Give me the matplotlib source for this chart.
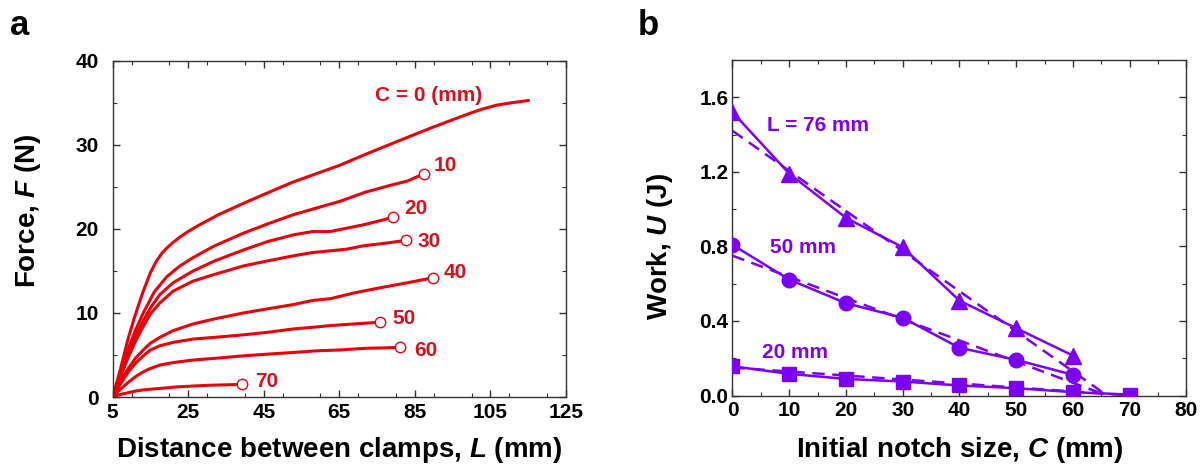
import matplotlib
matplotlib.use("Agg")
import matplotlib.pyplot as plt
from matplotlib.ticker import MultipleLocator, FixedLocator

plt.rcParams['font.family'] = ['Liberation Sans', 'DejaVu Sans']
plt.rcParams['font.weight'] = 'bold'
plt.rcParams['mathtext.fontset'] = 'custom'
plt.rcParams['mathtext.it'] = 'Liberation Sans:italic:bold'
plt.rcParams['mathtext.rm'] = 'Liberation Sans:bold'

# ---------------- Panel a data: force vs distance for notch sizes C ----------------
notch_sizes = [0, 10, 20, 30, 40, 50, 60, 70]

L_c0 = [5, 7, 9, 11, 13.1, 15.0, 16.5, 18.0, 19.5, 21, 23, 25, 27.2, 33, 39.6, 46, 52.8, 59, 65.2, 72, 80.2, 89.1, 97.9, 102.3, 106.7, 111, 115.1]
F_c0 = [0, 3.2, 6.8, 9.8, 12.6, 14.8, 16.1, 17.1, 17.8, 18.4, 19.1, 19.7, 20.3, 21.7, 23.05, 24.3, 25.6, 26.6, 27.6, 28.9, 30.4, 32.0, 33.5, 34.2, 34.75, 35.05, 35.3]

L_c10 = [5, 7, 9, 11, 13.1, 16, 19.3, 22.5, 26.3, 32, 39.6, 46, 52.8, 59, 65.2, 72, 78.5, 83, 87.5]
F_c10 = [0, 2.8, 5.6, 7.9, 10.0, 12.5, 14.3, 15.5, 16.6, 18.0, 19.5, 20.6, 21.7, 22.5, 23.3, 24.4, 25.2, 25.7, 26.6]

L_c20 = [5, 7, 9, 11, 13.1, 15, 17.5, 21, 26.3, 32, 39.6, 46, 52.8, 58, 62.6, 67, 71.4, 75, 79.3]
F_c20 = [0, 2.5, 5.0, 7.2, 9.1, 10.6, 12.2, 13.6, 15.0, 16.2, 17.5, 18.5, 19.3, 19.7, 19.7, 20.1, 20.5, 20.9, 21.4]

L_c30 = [5, 7, 9, 11, 13.1, 15, 17.5, 21, 26.3, 32, 39.6, 46, 52.8, 58, 62.6, 67, 71.4, 77, 82.7]
F_c30 = [0, 2.3, 4.6, 6.6, 8.4, 9.9, 11.2, 12.6, 13.8, 14.6, 15.6, 16.2, 16.8, 17.2, 17.4, 17.6, 18.0, 18.3, 18.65]

L_c40 = [5, 7, 9, 11, 13.1, 15, 17.5, 21, 26.3, 32, 39.6, 46, 52.8, 58, 62.6, 69, 75.8, 83, 89.9]
F_c40 = [0, 1.8, 3.3, 4.6, 5.6, 6.4, 7.1, 7.9, 8.7, 9.3, 10.0, 10.5, 11.0, 11.5, 11.7, 12.4, 13.0, 13.6, 14.2]

L_c50 = [5, 7, 9, 11, 13.1, 15, 17.5, 21, 26.3, 32, 39.6, 46, 52.8, 58, 62.6, 69, 75.7]
F_c50 = [0, 1.5, 2.9, 4.0, 4.9, 5.6, 6.1, 6.5, 6.9, 7.1, 7.4, 7.7, 8.1, 8.3, 8.5, 8.7, 8.9]

L_c60 = [5, 7, 9, 11, 13.1, 15, 17.5, 21, 26.3, 32, 39.6, 46, 52.8, 59, 65.2, 72, 81.1]
F_c60 = [0, 0.9, 1.7, 2.4, 3.0, 3.4, 3.8, 4.1, 4.4, 4.6, 4.9, 5.1, 5.3, 5.5, 5.6, 5.8, 5.9]

L_c70 = [5, 7, 9, 11, 13.1, 17, 22, 26, 30.8, 35, 39.3]
F_c70 = [0, 0.3, 0.5, 0.7, 0.85, 1.0, 1.2, 1.3, 1.4, 1.45, 1.5]

curves_L = [L_c0, L_c10, L_c20, L_c30, L_c40, L_c50, L_c60, L_c70]
curves_F = [F_c0, F_c10, F_c20, F_c30, F_c40, F_c50, F_c60, F_c70]
labels_a = ["C = 0 (mm)", "10", "20", "30", "40", "50", "60", "70"]
label_pos_L = [88.6, 93.0, 85.3, 88.8, 95.7, 82.0, 87.9, 45.8]
label_pos_F = [35.95, 27.6, 22.4, 18.5, 14.85, 9.3, 5.5, 1.9]

a_xticks = [5, 25, 45, 65, 85, 105, 125]
a_yticks = [0, 10, 20, 30, 40]

# ---------------- Panel b data: work vs notch size ----------------
C_vals = [0, 10, 20, 30, 40, 50, 60]
U_L76 = [1.52, 1.19, 0.953, 0.795, 0.509, 0.361, 0.214]
U_L50 = [0.808, 0.622, 0.495, 0.417, 0.256, 0.191, 0.111]
C_vals_20 = [0, 10, 20, 30, 40, 50, 60, 70]
U_L20 = [0.157, 0.116, 0.089, 0.075, 0.054, 0.039, 0.018, 0.005]

fit_C_L76 = [0, 66]
fit_U_L76 = [1.42, 0.0]
fit_C_L50 = [0, 66]
fit_U_L50 = [0.75, 0.0]
fit_C_L20 = [0, 70]
fit_U_L20 = [0.15, 0.0]

b_xticks = [0, 10, 20, 30, 40, 50, 60, 70, 80]
b_yticks = [0.0, 0.4, 0.8, 1.2, 1.6]
b_labels = ["L = 76 mm", "50 mm", "20 mm"]
b_label_C = [15.1, 12.5, 11.0]
b_label_U = [1.45, 0.795, 0.232]

RED = '#e8000b'
RED_TXT = '#d8101c'
PURPLE = '#7c00f2'

fig = plt.figure(figsize=(12.01, 4.68), dpi=100)
axa = fig.add_axes([0.0938, 0.1517, 0.3775, 0.718])
axb = fig.add_axes([0.6099, 0.1549, 0.3780, 0.717])


def style(ax, ypad):
    for s in ax.spines.values():
        s.set_linewidth(1.0)
        s.set_color('#333333')
    ax.tick_params(which='both', direction='in', top=True, right=True,
                   labelsize=15, colors='#333333', labelcolor='black')
    ax.tick_params(axis='x', which='both', pad=4)
    ax.tick_params(axis='y', which='both', pad=ypad)
    ax.tick_params(which='major', length=5, width=1)
    ax.tick_params(which='minor', length=3, width=0.8)
    for lab in ax.get_xticklabels() + ax.get_yticklabels():
        lab.set_fontweight('bold')


# Panel a
for i, (Ls, Fs) in enumerate(zip(curves_L, curves_F)):
    axa.plot(Ls, Fs, color=RED, lw=2.2, solid_capstyle='round', solid_joinstyle='round', zorder=2)
    if i > 0:
        axa.plot(Ls[-1], Fs[-1], 'o', ms=7.5, mfc='white', mec=RED, mew=1.0, zorder=3)
for t, x, y in zip(labels_a, label_pos_L, label_pos_F):
    axa.text(x, y, t, color=RED_TXT, fontsize=15, fontweight='bold', ha='center', va='center')
axa.set_xlim(5, 125)
axa.set_ylim(0, 40)
axa.xaxis.set_major_locator(FixedLocator(a_xticks))
axa.xaxis.set_minor_locator(MultipleLocator(10))
axa.yaxis.set_major_locator(FixedLocator(a_yticks))
axa.yaxis.set_minor_locator(MultipleLocator(5))
style(axa, 10)
axa.set_xlabel(r"Distance between clamps, $\mathit{L}$ (mm)", fontsize=20, fontweight='bold')
axa.set_ylabel(r"Force, $\mathit{F}$ (N)", fontsize=20, fontweight='bold')
axa.xaxis.set_label_coords(0.5, -0.113)
axa.yaxis.set_label_coords(-0.154, 0.555)

# Panel b
axb.plot(C_vals, U_L76, '-^', color=PURPLE, lw=1.8, ms=12, zorder=3)
axb.plot(C_vals, U_L50, '-o', color=PURPLE, lw=1.8, ms=10.5, zorder=3)
axb.plot(C_vals_20, U_L20, '-s', color=PURPLE, lw=1.8, ms=9.5, zorder=3)
for fc, fu in [(fit_C_L76, fit_U_L76), (fit_C_L50, fit_U_L50), (fit_C_L20, fit_U_L20)]:
    axb.plot(fc, fu, '--', color=PURPLE, lw=1.8, dashes=(5, 3), zorder=2)
for t, x, y in zip(b_labels, b_label_C, b_label_U):
    axb.text(x, y, t, color=PURPLE, fontsize=15, fontweight='bold', ha='center', va='center')
axb.set_xlim(0, 80)
axb.set_ylim(0, 1.8)
axb.xaxis.set_major_locator(FixedLocator(b_xticks))
axb.xaxis.set_minor_locator(MultipleLocator(5))
axb.yaxis.set_major_locator(FixedLocator(b_yticks))
axb.yaxis.set_minor_locator(MultipleLocator(0.2))
axb.set_yticklabels([f"{v:.1f}" for v in b_yticks])
style(axb, 3)
axb.set_xlabel(r"Initial notch size, $\mathit{C}$ (mm)", fontsize=20, fontweight='bold')
axb.set_ylabel(r"Work, $\mathit{U}$ (J)", fontsize=20, fontweight='bold')
axb.xaxis.set_label_coords(0.5, -0.118)
axb.yaxis.set_label_coords(-0.127, 0.443)

fig.text(0.008, 0.925, "a", fontsize=25, fontweight='bold', va='baseline', ha='left')
fig.text(0.531, 0.925, "b", fontsize=25, fontweight='bold', va='baseline', ha='left')

fig.savefig("out.png", dpi=100)
